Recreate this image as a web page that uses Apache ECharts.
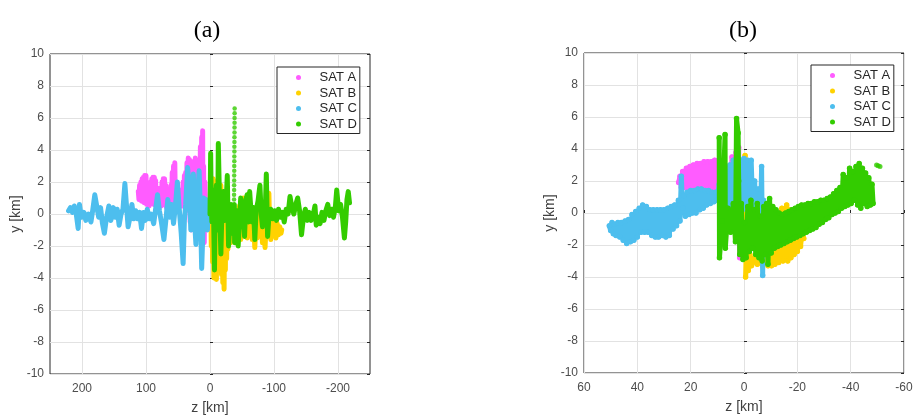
<!DOCTYPE html>
<html><head><meta charset="utf-8">
<script src="https://cdn.jsdelivr.net/npm/echarts@6/dist/echarts.min.js"></script>
<style>html,body{margin:0;padding:0;background:#fff}#c{width:920px;height:420px}</style>
</head><body><div id="c"></div>
<script>
// ---------- DATA ----------
const satNames = ['SAT A', 'SAT B', 'SAT C', 'SAT D'];
const panelTitles = ['(a)', '(b)'];
const xTicksA = [-200, -100, 0, 100, 200];

// Panel (a): [z km, y km]
const aSatA = [[112,1.4],[111,0.9],[110,1.8],[109,1.1],[108,2.0],[107,0.8],[106,2.2],[105,1.0],[104,2.3],[103,0.7],[102,2.4],[101,1.2],[100,2.4],[99,0.6],[98,2.0],[97,1.0],[96,1.6],[95,0.5],[94,1.4],[92,0.8],[91,2.2],[90,1.0],[89,2.3],[88,0.6],[87,2.3],[86,1.2],[85,2.1],[84,0.5],[83,1.5],[82,0.9],[80,1.6],[79,0.6],[78,1.2],[76,0.5],[75,2.0],[74,1.0],[73,2.2],[72,0.6],[71,2.2],[70,1.0],[69,1.8],[68,0.4],[67,1.2],[65,0.2],[64,1.0],[62,0.3],[61,1.8],[60,0.6],[59,2.6],[58,1.0],[57,3.0],[56,1.2],[55,3.2],[54,0.4],[53,2.0],[52,0.2],[51,1.0],[49,0.3],[48,1.2],[46,0.6],[45,1.5],[43,0.5],[42,2.0],[41,0.8],[40,2.4],[39,1.0],[38,2.6],[37,0.5],[36,3.2],[35,1.0],[34,3.5],[33,0.2],[32,3.4],[31,-0.5],[30,1.5],[29,-1.0],[28,0.8],[27,2.0],[26,0.5],[25,3.3],[24,1.0],[23,3.5],[22,0.0],[21,2.5],[20,-0.5],[19,1.5],[18,-1.0],[17,2.5],[16,1.0],[15,4.2],[14,2.0],[13,4.8],[12,1.0],[11.5,5.2],[11,-0.5],[10,3.0],[9,-1.8],[8,2.0],[7,0.3]];
const aSatB = [[0,-0.5],[-1,1.0],[-2,-2.0],[-3,1.8],[-4,-3.0],[-5,2.2],[-6,-4.0],[-7,1.0],[-8,-3.6],[-9,2.0],[-10,-4.1],[-11,0.5],[-12,-2.5],[-13,1.6],[-14,-3.0],[-15,0.8],[-16,-2.0],[-17,1.8],[-18,-3.8],[-19,0.3],[-20,-4.3],[-21,-1.0],[-22,-4.7],[-23,0.5],[-24,-3.5],[-25,1.2],[-26,-2.8],[-27,0.6],[-28,-2.2],[-30,0.2],[-32,-1.8],[-34,-0.2],[-36,-1.6],[-38,0.0],[-40,-1.8],[-42,-0.5],[-44,-1.5],[-46,0.5],[-48,-1.6],[-50,-0.3],[-52,1.0],[-54,-1.2],[-56,0.8],[-58,-1.5],[-60,-0.2],[-62,-1.1],[-64,0.4],[-66,-1.6],[-68,-0.3],[-70,-2.1],[-72,-0.4],[-74,-1.5],[-76,0.3],[-78,-1.2],[-80,-0.2],[-82,-1.8],[-84,-0.6],[-86,-2.1],[-88,-0.4],[-90,0.6],[-92,1.3],[-93,-0.5],[-95,-1.6],[-97,-0.5],[-99,-1.3],[-101,-0.4],[-103,-1.5],[-105,-0.6],[-107,-1.3],[-109,-0.8],[-111,-1.2],[-112,-1.0]];
const aSatC = [[221,0.2],[218,0.4],[215,0.1],[212,0.5],[209,0],[206,-0.9],[204,0.6],[201,-0.2],[197,0.1],[194,-0.4],[190,0],[186,-0.5],[183,0.3],[180,1.2],[177,0.5],[174,-0.2],[171,0.4],[168,-0.6],[165,-1.2],[162,-0.3],[158,0.5],[155,-0.4],[151,0.4],[148,-0.2],[145,0.3],[142,-0.7],[139,0],[136,0.3],[133,1.9],[131,0.8],[128,-0.8],[125,-0.2],[122,0.6],[119,-0.3],[116,0.2],[113,-0.3],[110,0.1],[107,-0.9],[104,0.1],[101,-0.4],[98,0.3],[95,-0.3],[92,0],[88,-0.6],[85,0.3],[82,1.2],[79,0.2],[76,-0.5],[72,-1.6],[69,-0.4],[66,0.9],[63,-0.2],[60,0.6],[57,-0.6],[54,0.5],[51,2.0],[48,0.3],[45,-1.2],[42,-3.1],[40,-0.4],[38,0.6],[35,2.9],[32,1.5],[30,-1],[28,0.4],[26,2.5],[24,-0.5],[22,-1.9],[20,0.8],[17,2.7],[15,0.2],[13,-3.4],[11,-1.0],[10,1.0],[8,-0.8],[6,0.9],[4,-1],[3,0.5],[1,-0.3],[0,0]];
const aSatD = [[0,0],[-1,3.8],[-2,0.5],[-3,-0.5],[-5,1.5],[-7,-3.5],[-8,0.2],[-10,1.8],[-12,-1.0],[-13,4.4],[-15,0.5],[-17,-2.5],[-19,0.8],[-21,1.4],[-23,-0.4],[-25,0.5],[-27,2.4],[-29,-2.0],[-31,-0.6],[-33,0.6],[-35,-1.2],[-37,-0.4],[-38,0.6],[-38.5,-1.8],[-40,-1.8],[-42,0.2],[-44,-2.0],[-46,-0.5],[-48,1.0],[-50,-0.8],[-52,0.3],[-54,-1.4],[-56,0.9],[-58,1.2],[-60,-0.5],[-62,1.4],[-64,0.2],[-66,-0.5],[-68,0.4],[-70,-1.6],[-72,0.2],[-75,0.8],[-78,1.8],[-80,0.0],[-82,-0.8],[-84,0.5],[-86,-0.3],[-88,2.5],[-90,-1.4],[-92,-0.2],[-95,0.3],[-98,-0.3],[-101,0.2],[-104,-0.4],[-107,0.3],[-110,-0.2],[-113,0.1],[-116,-0.5],[-119,0.3],[-122,0.0],[-125,1.1],[-128,0.4],[-131,0.0],[-134,0.6],[-137,1.0],[-140,0.2],[-143,-1.3],[-146,-0.2],[-149,0.3],[-152,-0.4],[-155,0.1],[-158,-0.4],[-161,-0.1],[-164,0.5],[-166,-0.7],[-169,-0.2],[-172,-0.6],[-175,0.1],[-178,-0.4],[-181,0.2],[-184,0.6],[-187,-0.1],[-190,0.3],[-193,-0.2],[-196,0.5],[-198,1.5],[-201,0.2],[-204,0.6],[-207,-0.2],[-210,-1.5],[-212,-0.5],[-214,0.9],[-216,1.4],[-218,0.7]];
// dotted column of SAT D samples in panel (a)
const aSatDdots = [[-38.5,6.6],[-38.5,6.3],[-38.4,6.0],[-38.4,5.7],[-38.3,5.4],[-38.3,5.1],[-38.2,4.8],[-38.2,4.5],[-38.1,4.2],[-38.1,3.9],[-38.0,3.6],[-38.0,3.3],[-37.9,3.0],[-37.9,2.7],[-37.8,2.4],[-37.8,2.1],[-37.7,1.8],[-37.7,1.5],[-37.6,1.2],[-37.6,0.9]];

// Panel (b): [z km, y km]
const bSatA = [[24.5,1.9],[24,2.3],[23.5,1.6],[23,2.6],[22.3,1.6],[21.6,2.8],[21,1.5],[20.3,2.9],[19.6,1.6],[19,3.0],[18.3,1.5],[17.6,3.1],[17,1.6],[16.3,3.1],[15.6,1.6],[15,3.2],[14.3,1.5],[13.6,3.2],[13,1.6],[12.3,3.2],[11.6,1.5],[11,3.3],[10.3,1.6],[9.6,3.3],[9,1.4],[8.5,3.2],[7.5,1.0],[6.5,2.8],[5.5,0.5],[4.5,3.5],[3.5,0.8],[3,3.8],[2.5,-1.0],[2,4.1],[1.6,-2.8],[1.2,0.3],[0.8,-2.6],[0.4,-0.5],[0,-2.2],[-0.4,-1.0]];
const bSatB = [[-0.4,3.6],[-0.6,0.8],[-0.8,2.8],[-1.0,-1.2],[-0.6,-4.0],[-1.2,-2.4],[-1.6,-3.6],[-2.2,-2.6],[-2.8,-3.3],[-4,-2.8],[-5,-3.2],[-6,-2.6],[-7,-3.3],[-8,-2.5],[-9,-3.3],[-9.7,-1.8],[-10.3,-3.3],[-11,-1.6],[-11.6,-3.2],[-12.3,-1.2],[-13,-3.1],[-13.6,-0.6],[-14.2,0.3],[-14.6,-3.0],[-15.3,-0.2],[-16,0.5],[-16.4,-3.0],[-17,0.2],[-17.6,-2.8],[-18.2,-0.5],[-18.8,-2.6],[-19.4,-0.8],[-20,-2.4],[-20.6,-1.0],[-21.2,-2.1],[-21.8,-1.1],[-22.4,-1.6]];
const bSatC = [[50.5,-0.8],[50,-1.1],[49.5,-0.6],[49,-1.3],[48.5,-0.7],[48,-1.4],[47.3,-0.6],[46.6,-1.5],[46,-0.6],[45.3,-1.7],[44.6,-0.5],[44,-1.9],[43.3,-0.4],[42.6,-1.8],[42,-0.1],[41.3,-1.7],[40.6,0.1],[40,-1.5],[39.3,0.3],[38.6,-1.2],[38,0.5],[37.3,-1.2],[36.6,0.4],[36,-1.2],[35.3,0.2],[34.6,-1.4],[34,0.2],[33.3,-1.5],[32.6,0.2],[32,-1.5],[31.3,0.2],[30.6,-1.4],[30,0.2],[29.3,-1.5],[28.6,0.3],[28,-1.4],[27.3,0.4],[26.6,-1.0],[26,0.5],[25.3,-0.8],[24.6,0.8],[24,-0.5],[23.5,2.3],[23,0.3],[22.6,1.1],[22,-0.2],[21.3,1.3],[20.6,-0.1],[20,1.4],[19.3,0.0],[18.6,1.4],[18,0.0],[17.3,1.5],[16.6,0.2],[16,1.5],[15.3,0.3],[14.6,1.4],[14,0.5],[13.3,1.4],[12.6,0.6],[12,1.3],[11.3,0.7],[10.6,1.3],[10,0.8],[9.3,1.8],[8.6,0.0],[8,2.2],[7.3,-0.3],[6.6,2.6],[6,0.2],[5.3,3.0],[4.6,-0.4],[4,3.3],[3.3,0.0],[2.6,3.0],[2,-0.6],[1.3,3.3],[0.6,0.2],[0,3.4],[-0.7,0.5],[-1.4,3.3],[-2,0.0],[-2.7,3.3],[-3.4,-0.5],[-4,2.0],[-4.6,-1.2],[-5.3,1.5],[-6,-2.0],[-6.6,2.9],[-7,-3.9],[-7.3,0.8],[-8,-1.0],[-8.5,0.0]];
const bSatD = [[9.3,4.7],[9.2,-2.8],[8.2,-0.5],[7.1,4.9],[7.0,-2.2],[6,0.3],[5,-1.2],[4,0.6],[3.2,-1.8],[2.8,5.9],[2.2,5.0],[2.0,2.0],[1.6,-2.6],[1.0,0.6],[0.4,-2.9],[-0.2,-0.6],[-0.8,-2.8],[-1.4,0.4],[-2,-2.4],[-2.6,0.8],[-3.2,-2.2],[-3.8,0.2],[-4.4,-2.6],[-5,0.6],[-5.6,-2.8],[-6.2,-0.2],[-6.8,-3.0],[-7.4,0.4],[-8,-2.6],[-8.5,0.6],[-9,-3.2],[-9.6,0.9],[-10.2,-2.5],[-10.8,0.4],[-11.4,-2.2],[-12,0.2],[-12.6,-2.1],[-13.2,0.0],[-13.8,-2.0],[-14.4,-0.1],[-15,-1.9],[-15.6,0.0],[-16.2,-1.8],[-16.8,0.1],[-17.4,-1.7],[-18,0.2],[-18.6,-1.6],[-19.2,0.3],[-19.8,-1.5],[-20.4,0.4],[-21,-1.4],[-21.6,0.5],[-22.2,-1.3],[-22.8,0.5],[-23.4,-1.2],[-24,0.6],[-24.6,-1.1],[-25.2,0.6],[-25.8,-1.0],[-26.4,0.7],[-27,-0.9],[-27.6,0.7],[-28.2,-0.7],[-28.8,0.8],[-29.4,-0.6],[-30,0.8],[-30.6,-0.4],[-31.2,0.9],[-31.8,-0.3],[-32.4,1.0],[-33,-0.1],[-33.6,1.2],[-34.2,0.0],[-34.8,1.4],[-35.4,0.1],[-36,1.6],[-36.6,0.3],[-37.2,2.4],[-37.8,0.4],[-38.4,2.2],[-39,0.5],[-39.6,2.8],[-40.2,0.6],[-40.8,2.6],[-41.4,0.8],[-42,2.9],[-42.6,0.5],[-43.2,3.1],[-43.8,0.3],[-44.4,2.8],[-45,0.6],[-45.6,2.5],[-46.2,0.4],[-46.8,2.2],[-47.4,0.5],[-48,1.8],[-48.4,0.6]];
const bSatDdots = [[-49.7,3.0],[-51,2.9],[-50.3,2.95]];

// ---------- STYLE ----------
const colors = ['#ff5cff', '#ffd200', '#4dbeee', '#33cc00'];
const axisColor = '#262626';
const labelColor = '#4d4d4d';
const gridColor = '#e2e2e2';
const font = 'Liberation Sans';

const chart = echarts.init(document.getElementById('c'), null, {renderer: 'canvas'});

function yAxes(gi) {
  return [
    {gridIndex: gi, type: 'value', min: -10, max: 10, interval: 2, position: 'left',
     axisLine: {show: false}, axisTick: {show: true, inside: true, length: 3, lineStyle: {color: axisColor}},
     axisLabel: {fontSize: 12, color: labelColor, fontFamily: font, margin: 6},
     splitLine: {show: true, lineStyle: {color: gridColor, width: 1}},
     name: 'y [km]', nameLocation: 'middle', nameGap: 26,
     nameTextStyle: {fontSize: 14, color: '#404040', fontFamily: font}},
    {gridIndex: gi, type: 'value', min: -10, max: 10, interval: 2, position: 'right',
     axisLine: {show: false}, axisTick: {show: true, inside: true, length: 3, lineStyle: {color: axisColor}},
     axisLabel: {show: false}, splitLine: {show: false}}
  ];
}

const xAxes = [
  {gridIndex: 0, type: 'value', min: -250, max: 250, interval: 50, inverse: true, position: 'bottom',
   axisLine: {show: false}, axisTick: {show: false},
   axisLabel: {fontSize: 12, color: labelColor, fontFamily: font, margin: 9,
     formatter: v => (xTicksA.indexOf(v) >= 0 ? String(v) : '')},
   splitLine: {show: true, lineStyle: {color: ['rgba(0,0,0,0)', gridColor], width: 1}},
   name: 'z [km]', nameLocation: 'middle', nameGap: 27,
   nameTextStyle: {fontSize: 14, color: '#404040', fontFamily: font}},
  {gridIndex: 1, type: 'value', min: -60, max: 60, interval: 20, inverse: true, position: 'bottom',
   axisLine: {show: false}, axisTick: {show: true, inside: true, length: 3, lineStyle: {color: axisColor}},
   axisLabel: {fontSize: 12, color: labelColor, fontFamily: font, margin: 9},
   splitLine: {show: true, lineStyle: {color: gridColor, width: 1}},
   name: 'z [km]', nameLocation: 'middle', nameGap: 27,
   nameTextStyle: {fontSize: 14, color: '#404040', fontFamily: font}}
];

const panelA = [aSatA, aSatB, aSatC, aSatD];
const panelB = [bSatA, bSatB, bSatC, bSatD];
const series = [];
panelA.forEach((d, i) => series.push({
  type: 'line', name: satNames[i], xAxisIndex: 0, yAxisIndex: 0, data: d,
  showSymbol: false, symbol: 'circle', color: colors[i],
  lineStyle: {width: 5, color: colors[i], cap: 'round', join: 'round'}, z: 2 + i
}));
series.push({
  type: 'scatter', name: satNames[3], xAxisIndex: 0, yAxisIndex: 0, data: aSatDdots,
  symbol: 'circle', symbolSize: 4.5, itemStyle: {color: colors[3]}, z: 6
});
panelB.forEach((d, i) => series.push({
  type: 'line', name: satNames[i], xAxisIndex: 1, yAxisIndex: 2, data: d,
  showSymbol: true, symbol: 'circle', symbolSize: 5.5, color: colors[i],
  itemStyle: {color: colors[i], borderWidth: 0},
  lineStyle: {width: 5, color: colors[i], cap: 'round', join: 'round'}, z: 2 + i
}));
series.push({
  type: 'scatter', name: satNames[3], xAxisIndex: 1, yAxisIndex: 2, data: bSatDdots,
  symbol: 'circle', symbolSize: 5, itemStyle: {color: colors[3]}, z: 6
});

function legend(left, top) {
  return {
    left: left, top: top, orient: 'vertical', data: satNames.map(n => ({name: n, icon: 'circle'})),
    itemWidth: 32, itemHeight: 5, itemGap: 2.5, padding: [4, 3, 3, 19],
    borderColor: axisColor, borderWidth: 1, backgroundColor: '#fff',
    textStyle: {fontSize: 13, color: '#262626', fontFamily: font}, selectedMode: false
  };
}

chart.setOption({
  animation: false,
  backgroundColor: '#fff',
  grid: [
    {left: 50, top: 54, width: 320, height: 320, show: true, borderColor: axisColor, borderWidth: 1, backgroundColor: 'rgba(0,0,0,0)'},
    {left: 584, top: 53, width: 320, height: 320, show: true, borderColor: axisColor, borderWidth: 1, backgroundColor: 'rgba(0,0,0,0)'}
  ],
  xAxis: xAxes,
  yAxis: yAxes(0).concat(yAxes(1)),
  legend: [legend(277, 67), legend(811, 65)],
  graphic: [
    {type: 'text', x: 207, y: 31, style: {text: panelTitles[0], font: '24px "Liberation Serif"', fill: '#000', align: 'center', verticalAlign: 'middle'}},
    {type: 'text', x: 743, y: 31, style: {text: panelTitles[1], font: '24px "Liberation Serif"', fill: '#000', align: 'center', verticalAlign: 'middle'}}
  ],
  series: series
});
</script></body></html>
